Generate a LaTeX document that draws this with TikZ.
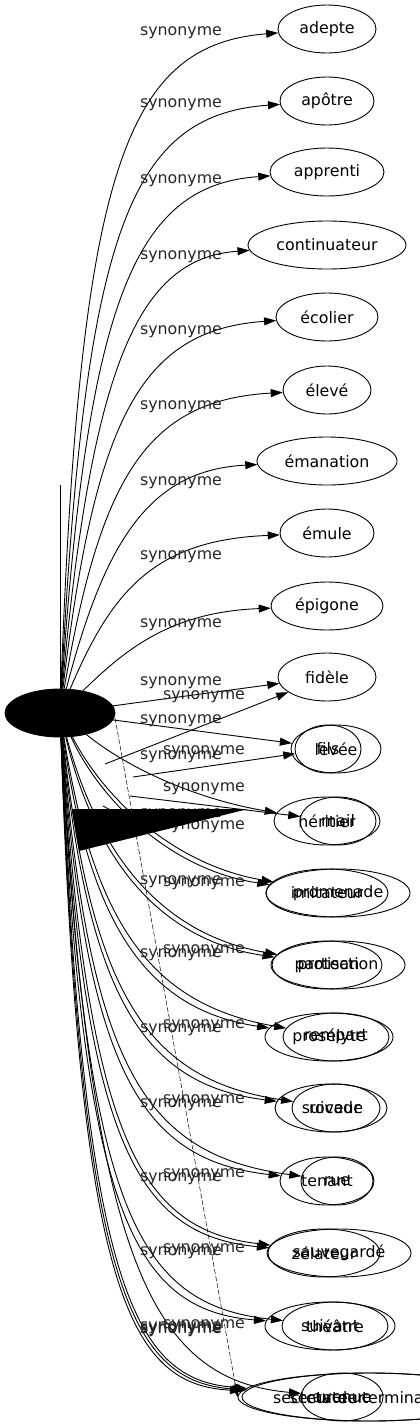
\documentclass[tikz,border=0pt]{standalone}
\usepackage{fontspec}
\setmainfont{DejaVu Sans}
\usetikzlibrary{shapes.geometric,arrows.meta}
\begin{document}
\begin{tikzpicture}[x=1pt,y=-1pt,
  el/.style={ellipse,draw,line width=0.9pt,inner sep=0pt,minimum height=48pt,font=\fontsize{15.8}{19}\selectfont},
  lab/.style={inner sep=0pt,font=\fontsize{15.8}{19}\selectfont,text=black!85},
  edge/.style={line width=0.9pt,-{Triangle[length=12pt,width=8pt]}},
  plain/.style={line width=0.9pt}]
\useasboundingbox (0,0) rectangle (420,1427);
% central node
\node[el,fill=black,minimum width=110pt] (c) at (60,713) {};
% top nodes
\node[el,minimum width=98pt] (n0) at (327,29) {adepte};
\node[el,minimum width=94pt] (n1) at (327,101) {apôtre};
\node[el,minimum width=114pt] (n2) at (327,172) {apprenti};
\node[el,minimum width=158pt] (n3) at (327,245) {continuateur};
\node[el,minimum width=102pt] (n4) at (327,317) {écolier};
\node[el,minimum width=88pt] (n5) at (327,390) {élevé};
\node[el,minimum width=140pt] (n6) at (327,461) {émanation};
\node[el,minimum width=94pt] (n7) at (327,533) {émule};
\node[el,minimum width=112pt] (n8) at (327,606) {épigone};
\node[el,minimum width=98pt] (n9) at (327,677) {fidèle};
% bottom nodes, two overlaid sets
\node[el,minimum width=90pt] (b10) at (336,749) {levée};
\node[el,minimum width=66pt] (a10) at (328,749) {fils};
\node[el,minimum width=106pt] (a11) at (327,821) {héritier};
\node[el,minimum width=76pt] (b11) at (338,821) {mail};
\node[el,minimum width=144pt] (b12) at (338,893) {promenade};
\node[el,minimum width=122pt] (a12) at (327,893) {imitateur};
\node[el,minimum width=134pt] (b13) at (338,965) {protection};
\node[el,minimum width=110pt] (a13) at (327,965) {partisan};
\node[el,minimum width=128pt] (a14) at (329,1037) {prosélyte};
\node[el,minimum width=106pt] (b14) at (336,1037) {rempart};
\node[el,minimum width=112pt] (a15) at (331,1108) {suiveur};
\node[el,minimum width=88pt] (b15) at (336,1108) {rocade};
\node[el,minimum width=94pt] (a16) at (327,1181) {tenant};
\node[el,minimum width=72pt] (b16) at (337,1181) {rue};
\node[el,minimum width=144pt] (b17) at (339,1253) {sauvegardé};
\node[el,minimum width=112pt] (a17) at (324,1253) {zélateur};
\node[el,minimum width=130pt] (a18) at (330,1326) {suivant};
\node[el,minimum width=106pt] (b18) at (335,1326) {théâtre};
\node[el,minimum width=260pt] (a19) at (368,1397) {};
\node[el,minimum width=256pt] (b19) at (370,1397) {};
\node[el,minimum width=82pt] (c19) at (342,1397) {};
\node[lab,text=black] (t19a) at (327,1398) {sectateur};
\node[lab,text=black] (t19b) at (342,1398) {avenue};
\node[lab,text=black,anchor=west] (t19c) at (273,1398) {secteur de terminaison};
% top edges
\draw[edge] (c) .. controls (80,170) and (125,45) .. (n0);
\draw[edge] (c) .. controls (85,230) and (130,115) .. (n1);
\draw[edge] (c) .. controls (88,300) and (135,185) .. (n2);
\draw[edge] (c) .. controls (92,360) and (140,258) .. (n3);
\draw[edge] (c) .. controls (95,420) and (140,330) .. (n4);
\draw[edge] (c) .. controls (100,480) and (145,400) .. (n5);
\draw[edge] (c) .. controls (105,540) and (150,470) .. (n6);
\draw[edge] (c) .. controls (112,590) and (155,540) .. (n7);
\draw[edge] (c) .. controls (125,650) and (170,612) .. (n8);
\draw[edge] (c) -- (n9);
% stray pieces
\coordinate (st) at (60,485);
\draw[plain] (c) -- (st);
\coordinate (s1) at (105,764);
\draw[edge] (s1) -- (n9);
\coordinate (s2) at (133,777);
\draw[edge] (s2) -- (a10);
\coordinate (s3) at (130,796);
\draw[edge] (s3) -- (b11);
\coordinate (s4) at (103,806);
\coordinate (s5) at (125,818);
\draw[plain] (s4) -- (s5);
% bottom edges
\draw[edge] (c) -- (b10);
\draw[edge] (c) .. controls (130,770) and (200,800) .. (a11);
\draw[edge] (c) .. controls (100,800) and (170,870) .. (a12);
\draw[edge] (c) .. controls (105,800) and (175,865) .. (b12);
\draw[edge] (c) .. controls (95,860) and (160,940) .. (a13);
\draw[edge] (c) .. controls (100,860) and (165,935) .. (b13);
\draw[edge] (c) .. controls (90,930) and (150,1010) .. (a14);
\draw[edge] (c) .. controls (95,930) and (155,1005) .. (b14);
\draw[edge] (c) .. controls (88,1000) and (145,1085) .. (a15);
\draw[edge] (c) .. controls (92,1000) and (150,1080) .. (b15);
\draw[edge] (c) .. controls (86,1070) and (140,1160) .. (a16);
\draw[edge] (c) .. controls (90,1070) and (145,1155) .. (b16);
\draw[edge] (c) .. controls (84,1140) and (135,1235) .. (a17);
\draw[edge] (c) .. controls (88,1140) and (140,1230) .. (b17);
\draw[edge] (c) .. controls (82,1210) and (132,1310) .. (a18);
\draw[edge] (c) .. controls (86,1210) and (136,1305) .. (b18);
\draw[edge] (c) .. controls (80,1290) and (128,1385) .. (a19);
\draw[edge] (c) .. controls (82,1290) and (130,1383) .. (b19);
\draw[edge] (c) .. controls (84,1290) and (134,1380) .. (a19);
\draw[edge] (c) .. controls (90,1260) and (150,1380) .. (c19);
\coordinate (ds) at (115,718);
\draw[edge,line width=0.5pt,dash pattern=on 5pt off 2pt] (ds) -- (a19.west);
% labels
\node[lab] (l0) at (181,33) {synonyme};
\node[lab] (l1) at (181,105) {synonyme};
\node[lab] (l2) at (181,181) {synonyme};
\node[lab] (l3) at (181,257) {synonyme};
\node[lab] (l4) at (181,332) {synonyme};
\node[lab] (l5) at (181,407) {synonyme};
\node[lab] (l6) at (181,483) {synonyme};
\node[lab] (l7) at (181,557) {synonyme};
\node[lab] (l8) at (181,625) {synonyme};
\node[lab] (l9) at (181,683) {synonyme};
\node[lab] (l9b) at (204,697) {synonyme};
\node[lab] (l10) at (181,721) {synonyme};
\node[lab] (l10b) at (204,752) {synonyme};
\node[lab] (l10c) at (181,757) {synonyme};
\node[lab] (l11) at (204,789) {synonyme};
\node[lab] (l11b) at (181,815) {synonyme};
\node[lab] (l11c) at (204,827) {synonyme};
\node[lab] (l12) at (181,882) {synonyme};
\node[lab] (l12b) at (204,884) {synonyme};
\node[lab] (l13) at (204,951) {synonyme};
\node[lab] (l13b) at (181,955) {synonyme};
\node[lab] (l14) at (204,1026) {synonyme};
\node[lab] (l14b) at (181,1030) {synonyme};
\node[lab] (l15) at (204,1101) {synonyme};
\node[lab] (l15b) at (181,1105) {synonyme};
\node[lab] (l16) at (204,1175) {synonyme};
\node[lab] (l16b) at (181,1179) {synonyme};
\node[lab] (l17) at (204,1250) {synonyme};
\node[lab] (l17b) at (181,1253) {synonyme};
\node[lab] (l18) at (204,1326) {synonyme};
\node[lab] (l18b) at (181,1330) {synonyme};
\node[lab] (l19) at (181,1328) {synonyme};
\node[lab] (l19b) at (181,1331) {synonyme};
% large black triangle artifact
\fill (72,809) -- (248,809) -- (79,851) -- cycle;
\end{tikzpicture}
\end{document}
